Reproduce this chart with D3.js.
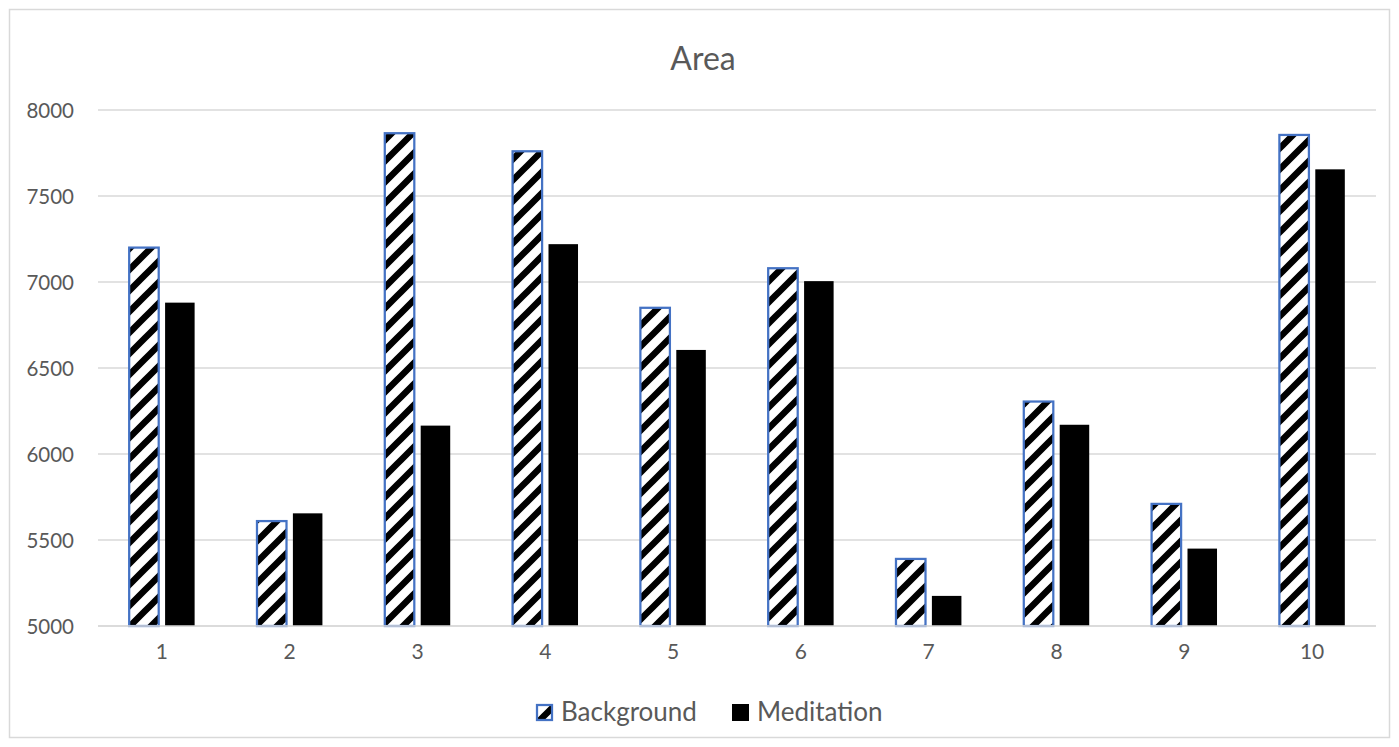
<!DOCTYPE html>
<html>
<head>
<meta charset="utf-8">
<script src="https://cdn.jsdelivr.net/npm/d3@7"></script>
<style>
  html, body { margin: 0; padding: 0; background: #fff; }
  svg text { font-family: Lato, "Open Sans", sans-serif; fill: #595959; }
</style>
</head>
<body>
<svg id="chart" width="1399" height="747"></svg>
<script>
// Chart data
const categories = ["1", "2", "3", "4", "5", "6", "7", "8", "9", "10"];
const backgroundValues = [7200, 5610, 7865, 7760, 6850, 7080, 5390, 6305, 5710, 7855];
const meditationValues = [6880, 5655, 6165, 7220, 6605, 7005, 5175, 6170, 5450, 7655];
const yTicks = [5000, 5500, 6000, 6500, 7000, 7500, 8000];
const seriesNames = ["Background", "Meditation"];
const chartTitle = "Area";

const svg = d3.select("#chart");
const W = 1399, H = 747;
const plot = { left: 98, right: 1376, top: 110, bottom: 626 };

// Chart frame
svg.append("rect")
  .attr("x", 9.5).attr("y", 9.5)
  .attr("width", W - 19).attr("height", H - 19)
  .attr("fill", "#fff").attr("stroke", "#d9d9d9").attr("stroke-width", 1.5);

// Striped fill for the Background series
const defs = svg.append("defs");
const pat = defs.append("pattern")
  .attr("id", "stripes")
  .attr("patternUnits", "userSpaceOnUse")
  .attr("width", 21).attr("height", 21);
pat.append("rect").attr("width", 21).attr("height", 21).attr("fill", "#fff");
pat.append("path")
  .attr("d", "M-6,27 L27,-6 M-6,6 L6,-6 M15,27 L27,15")
  .attr("stroke", "#000").attr("stroke-width", 6.5).attr("fill", "none");

const x = d3.scaleBand().domain(categories).range([plot.left, plot.right]);
const y = d3.scaleLinear().domain([5000, 8000]).range([plot.bottom, plot.top]);

// Gridlines
svg.append("g")
  .selectAll("line")
  .data(yTicks)
  .join("line")
  .attr("x1", plot.left).attr("x2", plot.right)
  .attr("y1", d => y(d)).attr("y2", d => y(d))
  .attr("stroke", "#d9d9d9").attr("stroke-width", 1.5);

// Y axis labels
const yAxis = d3.axisLeft(y).tickValues(yTicks).tickSize(0).tickPadding(0).tickFormat(d3.format("d"));
const yg = svg.append("g").attr("transform", `translate(74,0)`).call(yAxis);
yg.select(".domain").remove();
yg.selectAll("text")
  .attr("font-size", 20.5).attr("fill", "#595959").attr("font-family", "Lato, sans-serif")
  .attr("dy", "0.35em");

// X axis labels
const xAxis = d3.axisBottom(x).tickSize(0).tickPadding(0);
const xg = svg.append("g").attr("transform", `translate(0,${plot.bottom + 26})`).call(xAxis);
xg.select(".domain").remove();
xg.selectAll("text")
  .attr("font-size", 21).attr("fill", "#595959").attr("font-family", "Lato, sans-serif")
  .attr("dy", "0.35em");

// Bars
const bw = x.bandwidth() * 0.231;
const gap = x.bandwidth() * 0.05;
const bars = svg.append("g");
bars.selectAll("rect.bg")
  .data(categories)
  .join("rect")
  .attr("class", "bg")
  .attr("x", d => x(d) + x.bandwidth() / 2 - gap / 2 - bw)
  .attr("y", (d, i) => y(backgroundValues[i]))
  .attr("width", bw)
  .attr("height", (d, i) => y(5000) - y(backgroundValues[i]))
  .attr("fill", "url(#stripes)")
  .attr("stroke", "#4472c4").attr("stroke-width", 2.25);

bars.selectAll("rect.med")
  .data(categories)
  .join("rect")
  .attr("class", "med")
  .attr("x", d => x(d) + x.bandwidth() / 2 + gap / 2)
  .attr("y", (d, i) => y(meditationValues[i]))
  .attr("width", bw)
  .attr("height", (d, i) => y(5000) - y(meditationValues[i]))
  .attr("fill", "#000");

// Category axis line
svg.append("line")
  .attr("x1", plot.left).attr("x2", plot.right)
  .attr("y1", plot.bottom).attr("y2", plot.bottom)
  .attr("stroke", "#d9d9d9").attr("stroke-width", 1.5);

// Title
svg.append("text")
  .attr("x", 703).attr("y", 70)
  .attr("text-anchor", "middle")
  .attr("font-size", 32)
  .text(chartTitle);

// Legend
const legend = svg.append("g");
const lgY = 704, sw = 17;
const items = [
  { name: seriesNames[0], x: 536, fill: "url(#stripes)", stroke: "#4472c4" },
  { name: seriesNames[1], x: 732, fill: "#000", stroke: "none" }
];
items.forEach(it => {
  legend.append("rect")
    .attr("x", it.x + (it.stroke === "none" ? 0 : 1)).attr("y", lgY + (it.stroke === "none" ? 0 : 1))
    .attr("width", it.stroke === "none" ? sw : sw - 2).attr("height", it.stroke === "none" ? sw : sw - 2)
    .attr("fill", it.fill)
    .attr("stroke", it.stroke).attr("stroke-width", 2.25);
  legend.append("text")
    .attr("x", it.x + sw + 8).attr("y", lgY + 17)
    .attr("font-size", 26)
    .text(it.name);
});
</script>
</body>
</html>
